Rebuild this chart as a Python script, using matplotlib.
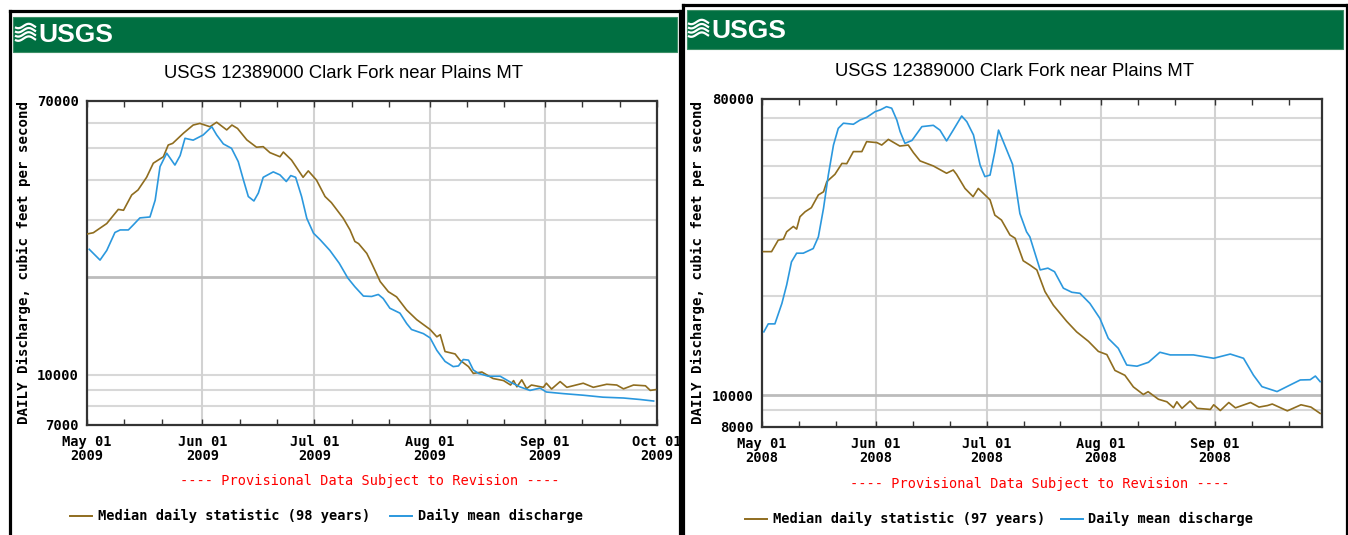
import matplotlib
matplotlib.use('Agg')
import matplotlib.pyplot as plt
import matplotlib.dates as mdates
from matplotlib.ticker import NullLocator, FixedLocator, FixedFormatter
from matplotlib.patches import Rectangle
from matplotlib.lines import Line2D
import numpy as np
import datetime as dt

# ---------------- data (day offset from May 01, discharge cfs) ----------------
median_2009_day = [0, 1.7, 5.3, 8.4, 9.8, 12, 13.7, 16, 17.8, 20.5, 21.8, 23, 25.9, 28.5, 30.3, 33, 34.8,
                   37.5, 38.9, 40.4, 42.9, 45.5, 47.3, 49.1, 51.8, 52.7, 54.9, 58, 59.4, 61.6, 63.9, 65.6,
                   68.8, 70.6, 71.9, 72.9, 75.1, 76.4, 78.7, 80.9, 83.1, 85.8, 88.5, 92.1, 93.9, 94.8, 96.1,
                   98.8, 100.1, 102.4, 103.7, 106, 109, 111.8, 113.7, 114.5, 115.4, 116.7, 118, 119.3, 122.5,
                   123.3, 124.7, 127, 128.8, 133.2, 135.9, 139.5, 142.2, 144, 146.7, 149.9, 151.2, 152.6]
median_2009_cfs = [27200, 27450, 29300, 32400, 32200, 35900, 37200, 40700, 45000, 47100, 51200, 51800, 55700,
                   59000, 59700, 58300, 60200, 57000, 59000, 57600, 53100, 50400, 50600, 48500, 47100, 48700,
                   46000, 40700, 42600, 39900, 35500, 34000, 30400, 28000, 25800, 25400, 23700, 22100, 19400,
                   18050, 17400, 15850, 14800, 13800, 13100, 13300, 11800, 11600, 11100, 10600, 10100, 10200,
                   9740, 9600, 9300, 9600, 9180, 9650, 9070, 9300, 9150, 9420, 9040, 9530, 9150, 9420, 9150,
                   9350, 9300, 9050, 9300, 9250, 8950, 9000]

mean_2009_day = [0.6, 3.5, 5.3, 7.5, 8.9, 11.1, 12.4, 14.2, 16.9, 18.3, 19.6, 21.4, 23.6, 25, 26.3, 28.5, 31.2,
                 33.5, 34.8, 36.6, 38.8, 40.6, 42, 43.3, 44.8, 46, 47.3, 50, 51.8, 53.5, 54.7, 56, 57.6, 59,
                 60.8, 62.6, 65.2, 67.7, 70, 71.9, 74.2, 76.4, 78.2, 79.5, 81.3, 84, 85.8, 87.1, 90.3, 92.1,
                 93.9, 96.1, 98.3, 99.7, 101, 102.4, 103.7, 105.1, 107.7, 110.9, 113.6, 116.2, 118.9, 121.6,
                 123.3, 127.8, 133.2, 138.5, 144, 148.5, 152.1]
mean_2009_cfs = [24400, 22600, 24200, 27500, 28000, 28000, 29000, 30500, 30700, 34600, 43900, 48300, 44400,
                 47500, 53700, 53000, 55000, 58300, 55000, 51600, 50000, 45500, 39900, 35500, 34400, 36400,
                 40700, 42300, 41400, 39500, 41200, 40700, 35500, 30400, 27350, 26100, 24200, 22100, 19900,
                 18700, 17500, 17450, 17700, 17200, 16050, 15500, 14400, 13800, 13400, 13000, 11900, 11000,
                 10600, 10650, 11150, 11100, 10350, 10100, 9900, 9900, 9500, 9180, 8950, 9100, 8850, 8750,
                 8650, 8530, 8480, 8390, 8300]

median_2008_day = [0.4, 2.6, 4.4, 5.8, 6.7, 8.5, 9.4, 10.3, 11.7, 13.4, 15.3, 16.7, 17.6, 19.8, 21.7, 23,
                   24.8, 27.1, 28.4, 31.2, 32.5, 34.3, 37.4, 39.7, 41.1, 42.9, 46.5, 50.1, 51.9, 52.8, 55.1,
                   57.3, 58.7, 61.9, 63.2, 65, 67.3, 68.7, 70.9, 72.7, 74.6, 76.8, 79.1, 82.7, 85.4, 88.6,
                   91.3, 93.6, 95.8, 98.5, 100.8, 103.5, 104.8, 107.6, 109.9, 111.7, 112.6, 114, 116.2, 118.1,
                   121.7, 122.6, 124.4, 126.7, 128.5, 132.6, 134.9, 137.2, 138.5, 142.6, 146.3, 149, 151.5]
median_2008_cfs = [27400, 27400, 29700, 29900, 31500, 32700, 32100, 35000, 36250, 37300, 40800, 41700, 44800,
                   47150, 50900, 50800, 55300, 55300, 59300, 58900, 57900, 60250, 57500, 57900, 54900, 51800,
                   50000, 47500, 48600, 47150, 42700, 40300, 42700, 39400, 35400, 34200, 30800, 30100, 25700,
                   24950, 24100, 20700, 18800, 16800, 15600, 14600, 13600, 13300, 11900, 11500, 10600, 10050,
                   10250, 9720, 9550, 9160, 9550, 9120, 9600, 9120, 9050, 9350, 8980, 9500, 9150, 9500, 9200,
                   9300, 9400, 8960, 9350, 9200, 8800]

mean_2008_day = [0.5, 1.7, 3.5, 5.4, 6.7, 8, 9.4, 11.2, 13.9, 15.3, 16.7, 18, 19.4, 20.7, 22.1, 24.8, 26.6,
                 28.4, 30.7, 32.1, 33.8, 35.2, 36.6, 37.5, 38.8, 40.7, 43.4, 46.5, 48.3, 50.1, 51.9, 54.2,
                 55.6, 57.4, 59.2, 60.5, 61.9, 63.2, 64.2, 65.5, 68, 70, 71.8, 72.7, 75.5, 77.6, 79.4, 81.8,
                 84.1, 86.3, 89, 91.7, 94, 96.7, 99, 101.8, 104.9, 108, 110.8, 117.1, 122.6, 127.1, 130.7,
                 133.4, 135.7, 139.8, 143.4, 146.1, 148.8, 150.2, 151.5]
mean_2008_cfs = [15600, 16500, 16500, 19050, 21700, 25500, 27100, 27100, 28000, 30400, 37150, 46900, 57900,
                 65100, 67500, 67000, 69000, 70300, 73200, 74100, 75800, 75000, 69000, 63600, 58600, 59800,
                 65900, 66500, 64300, 59600, 64300, 71000, 68200, 62150, 50300, 46400, 46900, 55300, 64300,
                 59300, 50600, 35800, 31500, 30400, 24100, 24400, 23800, 21200, 20600, 20450, 19050, 17160,
                 14900, 13900, 12360, 12260, 12600, 13520, 13270, 13270, 12960, 13350, 12960, 11510, 10620,
                 10260, 10750, 11130, 11150, 11440, 11000]

median_labels = ['Median daily statistic (98 years)', 'Median daily statistic (97 years)']
mean_label = 'Daily mean discharge'
title_text = 'USGS 12389000 Clark Fork near Plains MT'
ylabel_text = 'DAILY Discharge, cubic feet per second'
provisional_text = '---- Provisional Data Subject to Revision ----'

# ---------------- figure ----------------
W, H = 1348, 535
fig = plt.figure(figsize=(W / 100, H / 100), dpi=100)
fig.patch.set_facecolor('white')

MONO = ['DejaVu Sans Mono']
NARROW = ['Liberation Sans Narrow', 'Liberation Sans', 'DejaVu Sans']
BROWN = '#8f6d1f'
BLUE = '#2b98de'
GREEN = '#006f41'


def fx(x):
    return x / W


def fy(y):
    return 1 - y / H


def frect(x0, y0, x1, y1, **kw):
    fig.patches.append(Rectangle((fx(x0), fy(y1)), (x1 - x0) / W, (y1 - y0) / H,
                                 transform=fig.transFigure, **kw))


def fline(xs, ys, **kw):
    fig.lines.append(Line2D([fx(v) for v in xs], [fy(v) for v in ys],
                            transform=fig.transFigure, **kw))


def logo(x0, y0):
    # wave icon
    t = np.linspace(0, 1, 30)
    for k in range(4):
        yy = y0 + 8 + k * 4.2 + 2.2 * np.sin(t * 2 * np.pi + 0.6)
        fline(x0 + t * 21, yy, color='white', lw=1.6, solid_capstyle='butt')
    fig.text(fx(x0 + 23), fy(y0 + 17), 'USGS', color='white', fontsize=19, fontweight='bold',
             family=NARROW, ha='left', va='center')


def panel(box, frame, banner, logo_xy, title_xy, ylab_x, prov_xy, leg_y, leg_pos,
          start, end, ylim, yticks, light_grid, dark_grid, months,
          med_day, med_cfs, mean_day, mean_cfs, med_label):
    # outer frame
    fl, ft, fr, rw = frame
    fline([fl, fl], [H + 5, ft], color='black', lw=2.3, solid_capstyle='projecting')
    fline([fl, fr], [ft, ft], color='black', lw=2.3, solid_capstyle='projecting')
    fline([fr, fr], [ft, H + 5], color='black', lw=rw, solid_capstyle='projecting')
    # banner
    frect(*banner, facecolor=GREEN, edgecolor='#3c8f66', lw=0.8)
    logo(*logo_xy)
    fig.text(fx(title_xy[0]), fy(title_xy[1]), title_text, fontsize=13.3, family=NARROW,
             ha='center', va='center', color='black')

    l, t, r, b = box
    ax = fig.add_axes([fx(l), fy(b), (r - l) / W, (b - t) / H])
    ax.set_facecolor('white')
    x0 = mdates.date2num(start)
    x1 = mdates.date2num(end)
    ax.set_yscale('log')
    ax.set_xlim(x0, x1)
    ax.set_ylim(*ylim)

    for v in light_grid:
        ax.axhline(v, color='#d8d8d8', lw=1.5, zorder=0.5)
    for v in dark_grid:
        ax.axhline(v, color='#bcbcbc', lw=2.0, zorder=0.6)
    mnums = [mdates.date2num(m) for m in months]
    for m in mnums:
        if x0 < m < x1:
            ax.axvline(m, color='#d2d2d2', lw=1.5, zorder=0.5)

    ax.plot(x0 + np.array(med_day), med_cfs, color=BROWN, lw=1.2, zorder=3)
    ax.plot(x0 + np.array(mean_day), mean_cfs, color=BLUE, lw=1.2, zorder=3)

    # x ticks
    ax.xaxis.set_major_locator(FixedLocator(mnums))
    ax.xaxis.set_major_formatter(FixedFormatter([m.strftime('%b %d') + '\n' + m.strftime('%Y')
                                                 for m in months]))
    minors = []
    cur = start
    while cur <= end:
        for d in (11, 21):
            dd = dt.datetime(cur.year, cur.month, d)
            if start < dd < end:
                minors.append(mdates.date2num(dd))
        cur = dt.datetime(cur.year + (cur.month // 12), cur.month % 12 + 1, 1)
    ax.xaxis.set_minor_locator(FixedLocator(minors))
    ax.tick_params(axis='x', which='both', direction='in', top=True, bottom=True,
                   length=4, width=1, color='#333333', pad=7)
    for lab in ax.get_xticklabels():
        lab.set_family(MONO)
        lab.set_fontweight('bold')
        lab.set_fontsize(9.8)
        lab.set_linespacing(1.05)

    # y ticks
    ax.yaxis.set_major_locator(FixedLocator(yticks))
    ax.yaxis.set_major_formatter(FixedFormatter([str(v) for v in yticks]))
    ax.yaxis.set_minor_locator(NullLocator())
    ax.tick_params(axis='y', which='both', length=0, pad=6)
    for lab in ax.get_yticklabels():
        lab.set_family(MONO)
        lab.set_fontweight('bold')
        lab.set_fontsize(10)

    for s in ax.spines.values():
        s.set_color('#333333')
        s.set_linewidth(1.6)

    fig.text(fx(ylab_x), fy((t + b) / 2), ylabel_text, rotation=90, family=MONO,
             fontweight='bold', fontsize=10.2, ha='center', va='center')
    fig.text(fx(prov_xy[0]), fy(prov_xy[1]), provisional_text, color='#ff0000', family=MONO,
             fontsize=9.8, ha='center', va='center')

    # legend
    b1, t1, b2, t2 = leg_pos
    fline([b1, b1 + 22], [leg_y, leg_y], color=BROWN, lw=1.4)
    fig.text(fx(t1), fy(leg_y), med_label, family=MONO, fontsize=9.8, fontweight='bold',
             ha='left', va='center')
    fline([b2, b2 + 22], [leg_y, leg_y], color=BLUE, lw=1.4)
    fig.text(fx(t2), fy(leg_y), mean_label, family=MONO, fontsize=9.8, fontweight='bold',
             ha='left', va='center')
    return ax


months_2009 = [dt.datetime(2009, m, 1) for m in range(5, 11)]
panel(box=(87, 101, 657, 425), frame=(9.5, 11, 679.5, 2.3), banner=(13, 17, 677, 52),
      logo_xy=(15, 18), title_xy=(343, 73), ylab_x=24, prov_xy=(370, 481), leg_y=516,
      leg_pos=(70, 98, 390, 418),
      start=dt.datetime(2009, 5, 1), end=dt.datetime(2009, 10, 1), ylim=(7000, 70000),
      yticks=[7000, 10000, 70000],
      light_grid=[8000, 9000, 10000, 30000, 40000, 50000, 60000], dark_grid=[20000],
      months=months_2009,
      med_day=median_2009_day, med_cfs=median_2009_cfs, mean_day=mean_2009_day,
      mean_cfs=mean_2009_cfs, med_label=median_labels[0])

months_2008 = [dt.datetime(2008, m, 1) for m in range(5, 10)]
panel(box=(762, 99, 1322, 427), frame=(683, 5, 1346.5, 1.6), banner=(687, 10, 1343, 49),
      logo_xy=(688, 14), title_xy=(1014, 71), ylab_x=698, prov_xy=(1040, 484), leg_y=519,
      leg_pos=(745, 773, 1061, 1088),
      start=dt.datetime(2008, 5, 1), end=dt.datetime(2008, 9, 30), ylim=(8000, 80000),
      yticks=[8000, 10000, 80000],
      light_grid=[9000, 20000, 30000, 40000, 50000, 60000, 70000], dark_grid=[10000],
      months=months_2008,
      med_day=median_2008_day, med_cfs=median_2008_cfs, mean_day=mean_2008_day,
      mean_cfs=mean_2008_cfs, med_label=median_labels[1])

fig.savefig('out.png', dpi=100)
